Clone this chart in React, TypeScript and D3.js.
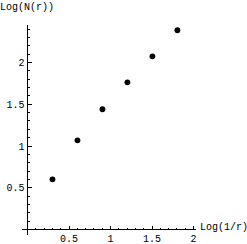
import React from 'react';
import * as d3 from 'd3';

// Box-counting points
const logInvR = [0.301, 0.602, 0.903, 1.204, 1.505, 1.806];
const logN = [0.601, 1.068, 1.44, 1.763, 2.074, 2.386];

const xTickLabels = ['0.5', '1', '1.5', '2'];
const yTickLabels = ['0.5', '1', '1.5', '2'];
const xTitle = 'Log(1/r)';
const yTitle = 'Log(N(r))';

const width = 247;
const height = 244;
const font = '"Liberation Mono", "DejaVu Sans Mono", monospace';

const App: React.FC = () => {
  const x = d3.scaleLinear().domain([0, 2]).range([27.5, 193.5]);
  const y = d3.scaleLinear().domain([0, 2]).range([229.5, 62.5]);

  // axis extents (a little past the origin, like the original)
  const xMin = -0.063;
  const xMax = 2.03;
  const yMin = -0.068;
  const yMax = 2.45;

  const xMinor = d3.range(1, 21).map((i) => i / 10);
  const yMinor = d3.range(1, 25).map((i) => i / 10);
  const isMajor = (v: number) => Math.abs(v * 2 - Math.round(v * 2)) < 1e-6;

  return (
    <svg
      width={width}
      height={height}
      style={{ position: 'fixed', left: 0, top: 0, background: '#fff' }}
      fontFamily={font}
    >
      <g stroke="#000" strokeWidth={1} shapeRendering="crispEdges">
        <line x1={x(xMin)} x2={x(xMax)} y1={y(0)} y2={y(0)} />
        <line x1={x(0)} x2={x(0)} y1={y(yMin)} y2={y(yMax)} />
        {xMinor.map((v) => (
          <line
            key={'xt' + v}
            x1={Math.round(x(v) - 0.5) + 0.5}
            x2={Math.round(x(v) - 0.5) + 0.5}
            y1={y(0)}
            y2={y(0) - (isMajor(v) ? 4 : 2)}
          />
        ))}
        {yMinor.map((v) => (
          <line
            key={'yt' + v}
            x1={x(0)}
            x2={x(0) + (isMajor(v) ? 4 : 2)}
            y1={Math.round(y(v) - 0.5) + 0.5}
            y2={Math.round(y(v) - 0.5) + 0.5}
          />
        ))}
      </g>

      <g fontSize={10} fill="#000">
        {xTickLabels.map((t) => (
          <text key={'xl' + t} x={x(+t)} y={241.5} textAnchor="middle">
            {t}
          </text>
        ))}
        {yTickLabels.map((t) => (
          <text key={'yl' + t} x={24.5} y={y(+t)} dy="0.35em" textAnchor="end">
            {t}
          </text>
        ))}
        <text x={200} y={229.5}>
          {xTitle}
        </text>
        <text x={0} y={9.5}>
          {yTitle}
        </text>
      </g>

      <g fill="#000">
        {logInvR.map((v, i) => (
          <circle key={i} cx={x(v)} cy={y(logN[i])} r={2.9} />
        ))}
      </g>
    </svg>
  );
};

export default App;
